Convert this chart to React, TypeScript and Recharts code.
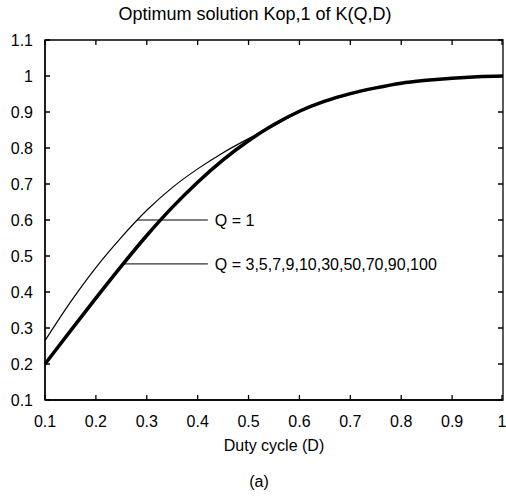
import React from 'react';
import { LineChart, Line, XAxis, YAxis, ReferenceLine, ReferenceArea } from 'recharts';

const duty = [0.1, 0.15, 0.2, 0.25, 0.3, 0.35, 0.4, 0.45, 0.5, 0.55, 0.6, 0.65, 0.7, 0.75, 0.8, 0.85, 0.9, 0.95, 1.0];
const kQ1 = [0.265, 0.372, 0.468, 0.552, 0.627, 0.69, 0.742, 0.787, 0.826, 0.862, 0.9, 0.928, 0.949, 0.966, 0.979, 0.988, 0.994, 0.998, 1.0];
const kQmany = [0.2, 0.292, 0.383, 0.472, 0.557, 0.635, 0.705, 0.767, 0.82, 0.865, 0.902, 0.93, 0.951, 0.967, 0.98, 0.988, 0.994, 0.998, 1.0];

const xTicks = [0.1, 0.2, 0.3, 0.4, 0.5, 0.6, 0.7, 0.8, 0.9, 1];
const yTicks = [0.1, 0.2, 0.3, 0.4, 0.5, 0.6, 0.7, 0.8, 0.9, 1, 1.1];

const data = duty.map((d, i) => ({ d, q1: kQ1[i], qn: kQmany[i] }));

const font = '"Liberation Sans", Arial, sans-serif';
const fmt = (v: number) => String(Math.round(v * 10) / 10);

// plot box edges in px, tick length
const TOP = 40;
const RIGHT = 503;
const TL = 5;

// ticks point into the plot on all four sides, labels outside
const BottomTick = (p: any) => (
  <g>
    <path d={`M${p.x},${p.y}v${-TL}M${p.x},${TOP}v${TL}`} stroke="#000" strokeWidth={1.3} fill="none" />
    <text x={p.x} y={p.y + 27} textAnchor="middle" fontSize={16} fontFamily={font} fill="#000">
      {fmt(p.payload.value)}
    </text>
  </g>
);

const LeftTick = (p: any) => (
  <g>
    <path d={`M${p.x},${p.y}h${TL}M${RIGHT},${p.y}h${-TL}`} stroke="#000" strokeWidth={1.3} fill="none" />
    <text x={p.x - 12} y={p.y + 6} textAnchor="end" fontSize={16} fontFamily={font} fill="#000">
      {fmt(p.payload.value)}
    </text>
  </g>
);

export default function App() {
  return (
    <div style={{ position: 'absolute', left: 0, top: 0, width: 506, height: 496, background: '#fff', fontFamily: font, color: '#000' }}>
      <div style={{ position: 'absolute', left: 0, width: 506, top: 4, textAlign: 'center', fontSize: 18, paddingLeft: 2 }}>
        Optimum solution Kop,1 of K(Q,D)
      </div>
      <LineChart width={506} height={496} data={data} margin={{ top: TOP, right: 506 - RIGHT, bottom: 0, left: 0 }}>
        <XAxis
          dataKey="d"
          type="number"
          domain={[0.1, 1]}
          ticks={xTicks}
          height={96}
          tickSize={0}
          tickMargin={0}
          tickLine={false}
          stroke="#000"
          strokeWidth={1.3}
          tick={<BottomTick />}
        />
        <YAxis
          type="number"
          domain={[0.1, 1.1]}
          ticks={yTicks}
          width={45}
          tickSize={0}
          tickMargin={0}
          tickLine={false}
          stroke="#000"
          strokeWidth={1.3}
          tick={<LeftTick />}
        />
        <ReferenceArea x1={0.1} x2={1} y1={0.1} y2={1.1} fill="none" stroke="#000" strokeWidth={1.3} ifOverflow="visible" />
        <Line dataKey="q1" type="monotone" stroke="#000" strokeWidth={1.2} dot={false} isAnimationActive={false} />
        <Line dataKey="qn" type="monotone" stroke="#000" strokeWidth={3.5} dot={false} isAnimationActive={false} />
        <ReferenceLine
          segment={[{ x: 0.281, y: 0.6 }, { x: 0.42, y: 0.6 }]}
          stroke="#000"
          strokeWidth={1}
          label={{ value: 'Q = 1', position: 'right', offset: 7, fill: '#000', fontSize: 16, fontFamily: font }}
        />
        <ReferenceLine
          segment={[{ x: 0.251, y: 0.478 }, { x: 0.42, y: 0.478 }]}
          stroke="#000"
          strokeWidth={1}
          label={{ value: 'Q = 3,5,7,9,10,30,50,70,90,100', position: 'right', offset: 7, fill: '#000', fontSize: 16, fontFamily: font }}
        />
      </LineChart>
      <div style={{ position: 'absolute', left: 45, width: 458, top: 437, textAlign: 'center', fontSize: 16 }}>
        Duty cycle (D)
      </div>
      <div style={{ position: 'absolute', left: 30, width: 458, top: 473, textAlign: 'center', fontSize: 16 }}>
        (a)
      </div>
    </div>
  );
}
